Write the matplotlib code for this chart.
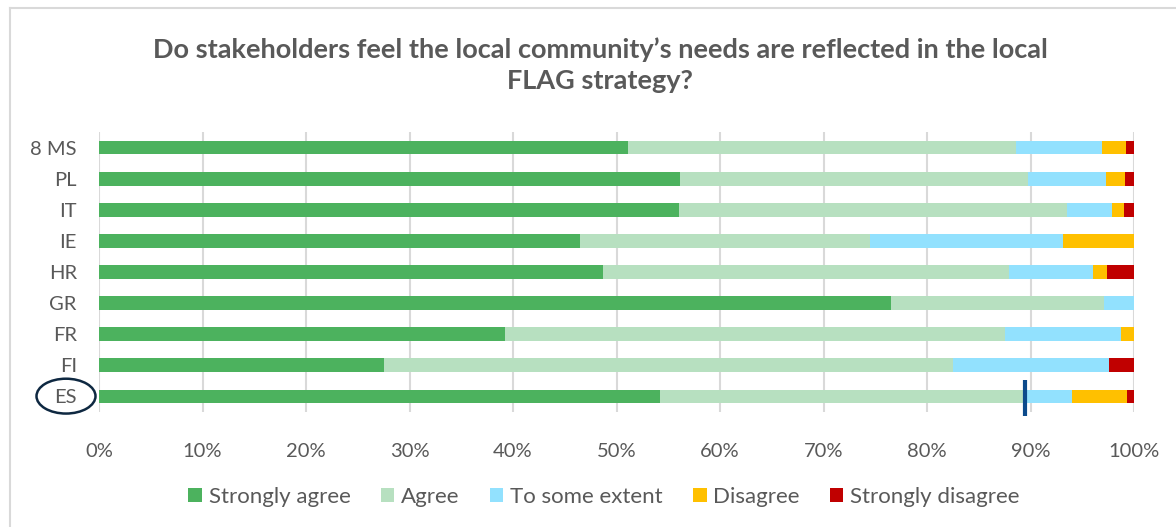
import matplotlib
matplotlib.use("Agg")
import matplotlib.pyplot as plt
import matplotlib.transforms as mtransforms
from matplotlib.patches import Ellipse, Patch
from matplotlib.lines import Line2D
import numpy as np

plt.rcParams['font.family'] = ['Lato', 'DejaVu Sans']

# Survey shares (%) per country, top row first
countries = ["8 MS", "PL", "IT", "IE", "HR", "GR", "FR", "FI", "ES"]
strongly_agree = [51.1, 56.1, 56.0, 46.5, 48.7, 76.5, 39.2, 27.5, 54.2]
agree = [37.5, 33.7, 37.5, 28.0, 39.2, 20.6, 48.3, 55.0, 35.3]
some_extent = [8.3, 7.5, 4.4, 18.6, 8.1, 2.9, 11.2, 15.1, 4.5]
disagree = [2.3, 1.8, 1.1, 6.9, 1.4, 0.0, 1.3, 0.0, 5.3]
strongly_disagree = [0.8, 0.9, 1.0, 0.0, 2.6, 0.0, 0.0, 2.4, 0.7]

series_names = ["Strongly agree", "Agree", "To some extent", "Disagree", "Strongly disagree"]
series_values = [strongly_agree, agree, some_extent, disagree, strongly_disagree]
series_colors = ["#4CB25E", "#B7E0C0", "#92E1FE", "#FFC000", "#C00000"]

# highlighted country and its reference marker (%)
highlight = "ES"
es_marker = 89.5

TEXT = "#595959"
GRID = "#D9D9D9"

W, H = 1176, 527
fig = plt.figure(figsize=(W / 100, H / 100), dpi=100)
ax = fig.add_axes([99 / W, 1 - 412 / H, (1134 - 99) / W, (412 - 132) / H])

y = np.arange(len(countries))
left = np.zeros(len(countries))
for name, vals, col in zip(series_names, series_values, series_colors):
    vals = np.array(vals)
    ax.barh(y, vals, left=left, height=0.44, color=col, label=name, zorder=3)
    left += vals

ax.set_xlim(0, 100)
ax.set_ylim(len(countries) - 0.5, -0.5)
ax.set_xticks(np.arange(0, 101, 10))
ax.set_xticklabels([f"{t}%" for t in range(0, 101, 10)])
ax.set_yticks(y)
ax.set_yticklabels(countries)
ax.tick_params(axis='both', length=0, labelsize=14.5, colors=TEXT)
ax.tick_params(axis='x', pad=22)
ax.tick_params(axis='y', pad=16)
ax.xaxis.grid(True, color=GRID, linewidth=1.5, zorder=0)
for s in ax.spines.values():
    s.set_visible(False)

# reference marker on the highlighted row
hi = countries.index(highlight)
ax.vlines(es_marker, hi - 0.54, hi + 0.62, color="#0C4A8C", linewidth=3,
          clip_on=False, zorder=5)

# ring around the highlighted label
blend = mtransforms.blended_transform_factory(fig.transFigure, ax.transData)
ax.add_patch(Ellipse((66 / W, hi - 0.01), 59 / W, 1.12, transform=blend,
                     fill=False, edgecolor="#0E2841", linewidth=1.8,
                     clip_on=False, zorder=6))

# chart frame
fig.add_artist(Line2D([10 / W, 1], [1 - 8 / H, 1 - 8 / H], color=GRID,
                      linewidth=1.5, transform=fig.transFigure))
fig.add_artist(Line2D([10 / W, 10 / W], [0, 1 - 8 / H], color=GRID,
                      linewidth=1.5, transform=fig.transFigure))

fig.text(600 / W, 1 - 65 / H,
         "Do stakeholders feel the local community\u2019s needs are reflected in the local\nFLAG strategy?",
         ha="center", va="center", fontsize=19.5, fontweight="bold", color=TEXT,
         linespacing=1.35)

handles = [Patch(facecolor=c, edgecolor="none") for c in series_colors]
fig.legend(handles, series_names, loc="center", bbox_to_anchor=(604 / W, 1 - 497 / H),
           ncol=5, frameon=False, fontsize=16, handlelength=0.62, handleheight=0.62,
           handletextpad=0.3, columnspacing=1.35, labelcolor=TEXT)

fig.savefig("out.png", dpi=100)
